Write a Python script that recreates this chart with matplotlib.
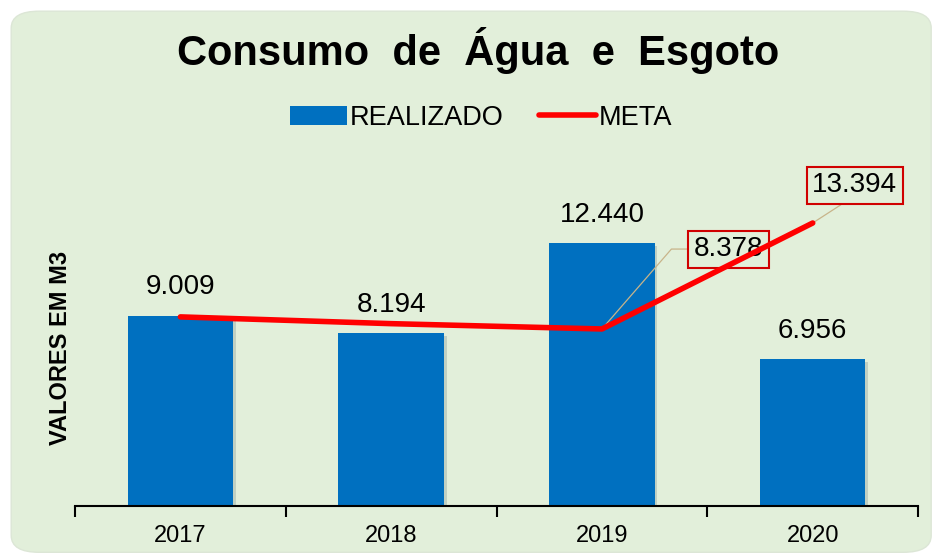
import matplotlib.pyplot as plt
from matplotlib.patches import FancyBboxPatch, Patch
from matplotlib.lines import Line2D
import matplotlib.patheffects as pe

# data
anos = ["2017", "2018", "2019", "2020"]
realizado = [9009, 8194, 12440, 6956]
meta = [8950, 8630, 8378, 13394]
realizado_labels = ["9.009", "8.194", "12.440", "6.956"]
meta_labels = {2: "8.378", 3: "13.394"}

plt.rcParams["font.family"] = ["Liberation Sans", "DejaVu Sans"]

fig = plt.figure(figsize=(9.34, 5.59), dpi=100)
fig.patch.set_facecolor("white")

# rounded green panel behind everything
panel = FancyBboxPatch((0.012, 0.012), 0.985, 0.968,
                       boxstyle="round,pad=0,rounding_size=0.03",
                       transform=fig.transFigure, facecolor="#E2EFDA",
                       edgecolor="#DCE6D6", linewidth=1, zorder=-5)
fig.patches.append(panel)

ax = fig.add_axes([0.0803, 0.0948, 0.9027, 0.567])
ax.set_facecolor("none")

x = list(range(len(anos)))
bars = ax.bar(x, realizado, width=0.5, color="#0070C0", zorder=2,
              path_effects=[pe.SimplePatchShadow(offset=(2, -2), alpha=0.15), pe.Normal()])
ax.bar_label(bars, labels=realizado_labels, padding=11, fontsize=20)

ax.plot(x, meta, color="#FF0000", linewidth=4, solid_capstyle="round", zorder=3)

# callouts for the meta values
ax.annotate(meta_labels[2], xy=(2, meta[2]), xytext=(2.60, 12160),
            fontsize=20, ha="center", va="center", annotation_clip=False, zorder=2.5,
            bbox=dict(boxstyle="square,pad=0.2", fc="none", ec="#D00000", lw=1.5),
            arrowprops=dict(arrowstyle="-", color="#C8B48A", lw=0.9, relpos=(0, 0.5),
                            shrinkA=0, shrinkB=0,
                            connectionstyle="angle,angleA=0,angleB=49,rad=0"))
ax.annotate(meta_labels[3], xy=(3, meta[3]), xytext=(3.20, 15170),
            fontsize=20, ha="center", va="center", annotation_clip=False, zorder=2.5,
            bbox=dict(boxstyle="square,pad=0.2", fc="none", ec="#D00000", lw=1.5),
            arrowprops=dict(arrowstyle="-", color="#C8B48A", lw=0.9, relpos=(0.45, 0),
                            shrinkA=0, shrinkB=0))

ax.set_xlim(-0.5, 3.5)
ax.set_ylim(0, 15000)
for s in ["top", "right", "left"]:
    ax.spines[s].set_visible(False)
ax.spines["bottom"].set_linewidth(1.5)
ax.set_yticks([])

ax.set_xticks([-0.5, 0.5, 1.5, 2.5, 3.5])
ax.set_xticklabels([])
ax.tick_params(axis="x", which="major", direction="out", length=8, width=1.5)
ax.set_xticks(x, minor=True)
ax.set_xticklabels(anos, minor=True, fontsize=17)
ax.tick_params(axis="x", which="minor", length=0, pad=14)

ax.set_ylabel("VALORES EM M3", fontsize=17, fontweight="bold", labelpad=2)

fig.text(0.512, 0.91, "Consumo  de  Água  e  Esgoto", ha="center", va="center",
         fontsize=30, fontweight="bold")

handles = [Patch(facecolor="#0070C0", edgecolor="none"),
           Line2D([0], [0], color="#FF0000", linewidth=4, solid_capstyle="round")]
fig.legend(handles, ["REALIZADO", "META"], loc="center", bbox_to_anchor=(0.515, 0.789),
           ncol=2, frameon=False, fontsize=19.5, handlelength=2.1, handleheight=0.7,
           handletextpad=0.1, columnspacing=1.3)

fig.savefig("out.png", dpi=100, facecolor=fig.get_facecolor())
